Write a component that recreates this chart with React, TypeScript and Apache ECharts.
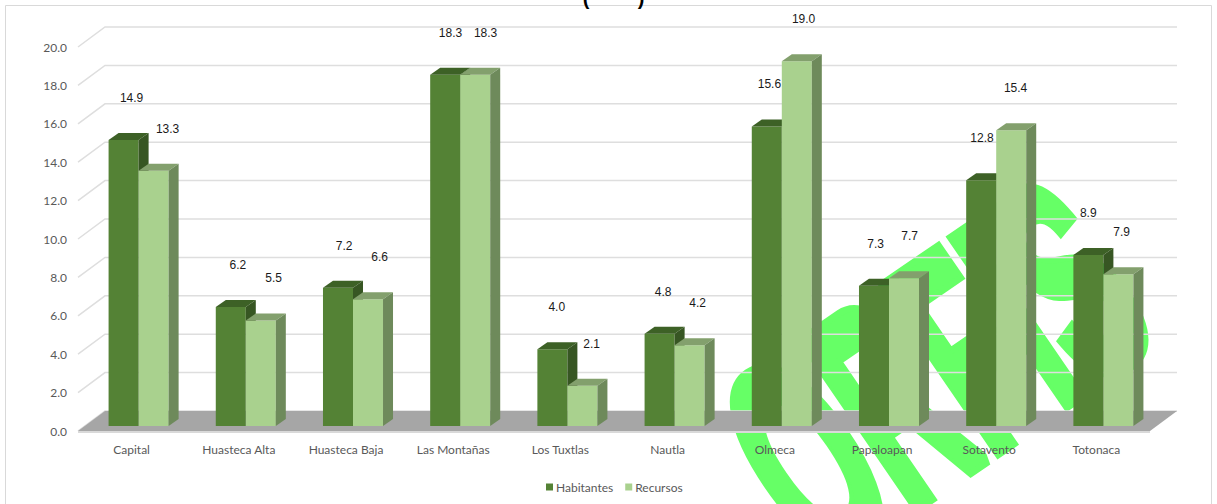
import React, { useEffect, useRef } from "react";
import * as echarts from "echarts";

const categories = [
  "Capital",
  "Huasteca Alta",
  "Huasteca Baja",
  "Las Montañas",
  "Los Tuxtlas",
  "Nautla",
  "Olmeca",
  "Papaloapan",
  "Sotavento",
  "Totonaca",
];
const habitantes = [14.9, 6.2, 7.2, 18.3, 4.0, 4.8, 15.6, 7.3, 12.8, 8.9];
const recursos = [13.3, 5.5, 6.6, 18.3, 2.1, 4.2, 19.0, 7.7, 15.4, 7.9];
const yTicks = [0, 2, 4, 6, 8, 10, 12, 14, 16, 18, 20];
const seriesNames = ["Habitantes", "Recursos"];

// 3D look (pixels)
const WALL_DX = 27;
const WALL_DY = -20;
const BAR_DX = 7;
const BAR_DY = -5;
const DEP_X = 10;
const DEP_Y = -7;

const palettes = [
  { front: "#548235", top: "#3d6126", side: "#375623" },
  { front: "#a9d18e", top: "#83a06d", side: "#6e8a5b" },
];

function barRenderer(s: number) {
  return (params: any, api: any) => {
    const i = api.value(0);
    const v = api.value(1);
    const base = api.coord([i, 0]);
    const topPt = api.coord([i, v]);
    const slot = api.size([1, 0])[0];
    const w = slot * 0.28;
    const x0 = base[0] + BAR_DX + (s === 0 ? -w : 0);
    const yb = base[1] + BAR_DY;
    const yt = topPt[1] + BAR_DY;
    const p = palettes[s];
    const off = s === 0 ? 8 - 0.9 * i : 14 - 1.2 * i;
    return {
      type: "group",
      children: [
        {
          type: "rect",
          shape: { x: x0, y: yt, width: w, height: yb - yt },
          style: { fill: p.front },
        },
        {
          type: "polygon",
          shape: {
            points: [
              [x0, yt],
              [x0 + DEP_X, yt + DEP_Y],
              [x0 + w + DEP_X, yt + DEP_Y],
              [x0 + w, yt],
            ],
          },
          style: { fill: p.top },
        },
        {
          type: "polygon",
          shape: {
            points: [
              [x0 + w, yt],
              [x0 + w + DEP_X, yt + DEP_Y],
              [x0 + w + DEP_X, yb + DEP_Y],
              [x0 + w, yb],
            ],
          },
          style: { fill: p.side },
        },
        {
          type: "text",
          z2: 50,
          style: {
            x: x0 + w / 2 + off,
            y: yt - 42,
            text: v.toFixed(1),
            align: "center",
            verticalAlign: "middle",
            fill: "#1a1a1a",
            font: "12px 'Liberation Sans', Arial, sans-serif",
          },
        },
      ],
    };
  };
}

export default function App() {
  const ref = useRef<HTMLDivElement>(null);

  useEffect(() => {
    if (!ref.current) return;
    const chart = echarts.init(ref.current, null, { renderer: "svg" });

    const option: any = {
      animation: false,
      color: ["#548235", "#a9d18e"],
      grid: { left: 78, right: 67, top: 47, bottom: 73 },
      xAxis: {
        type: "category",
        data: categories,
        z: 5,
        axisLine: { show: false },
        axisTick: { show: false },
        axisLabel: {
          color: "#595959",
          fontFamily: "Lato",
          fontSize: 12,
          margin: 12,
          interval: 0,
        },
        splitLine: { show: false },
      },
      yAxis: {
        type: "value",
        min: 0,
        max: 20,
        interval: 2,
        z: 5,
        axisLine: { show: false },
        axisTick: { show: false },
        splitLine: { show: false },
        axisLabel: {
          color: "#595959",
          fontFamily: "Lato",
          fontSize: 12,
          margin: 11,
          formatter: (v: number) => v.toFixed(1),
        },
      },
      legend: {
        data: seriesNames,
        left: 541,
        top: 476,
        icon: "rect",
        itemWidth: 7,
        itemHeight: 7,
        itemGap: 12,
        textStyle: { color: "#595959", fontFamily: "Lato", fontSize: 12, padding: [0, 0, 0, -2] },
      },
      graphic: {
        elements: [
          {
            type: "text",
            x: 935,
            y: 372,
            rotation: 0.6,
            scaleX: 0.47,
            z: 0,
            silent: true,
            style: {
              text: "ORFIS",
              align: "center",
              verticalAlign: "middle",
              fill: "#66ff66",
              stroke: "#66ff66",
              lineWidth: 14,
              font: "bold 290px 'Liberation Sans', Arial, sans-serif",
            },
          },
          {
            type: "rect",
            z: 20,
            silent: true,
            shape: { x: 5.5, y: 5.5, width: 1206, height: 530 },
            style: { fill: "none", stroke: "#d9d9d9", lineWidth: 1 },
          },
          {
            type: "text",
            z: 20,
            x: 586,
            y: 8,
            style: {
              text: "(",
              align: "center",
              verticalAlign: "bottom",
              fill: "#000",
              font: "bold 20px 'Liberation Sans', Arial, sans-serif",
            },
          },
          {
            type: "text",
            z: 20,
            x: 641,
            y: 8,
            style: {
              text: ")",
              align: "center",
              verticalAlign: "bottom",
              fill: "#000",
              font: "bold 20px 'Liberation Sans', Arial, sans-serif",
            },
          },
        ],
      },
      series: [
        {
          type: "custom",
          name: "walls",
          z: 1,
          silent: true,
          clip: false,
          data: yTicks.map((t) => [0, t]),
          renderItem: (params: any, api: any) => {
            const cs = params.coordSys;
            const y = api.coord([0, api.value(1)])[1];
            const x0 = cs.x;
            const x1 = cs.x + cs.width;
            return {
              type: "polyline",
              shape: {
                points: [
                  [x0, y],
                  [x0 + WALL_DX, y + WALL_DY],
                  [x1 + WALL_DX, y + WALL_DY],
                ],
              },
              style: { stroke: "#dedede", lineWidth: 1.5, fill: "none" },
            };
          },
        },
        {
          type: "custom",
          name: "floor",
          z: 2,
          silent: true,
          clip: false,
          data: [[0, 0]],
          renderItem: (params: any, api: any) => {
            const cs = params.coordSys;
            const y = api.coord([0, 0])[1];
            const x0 = cs.x;
            const x1 = cs.x + cs.width;
            return {
              type: "group",
              children: [
                {
                  type: "polygon",
                  shape: {
                    points: [
                      [x0, y],
                      [x1, y],
                      [x1 + WALL_DX, y + WALL_DY],
                      [x0 + WALL_DX, y + WALL_DY],
                    ],
                  },
                  style: { fill: "#a6a6a6" },
                },
                {
                  type: "rect",
                  shape: { x: x0, y: y, width: x1 - x0, height: 2 },
                  style: { fill: "#d9d9d9" },
                },
              ],
            };
          },
        },
        {
          type: "custom",
          name: seriesNames[0],
          z: 3,
          clip: false,
          itemStyle: { color: "#548235" },
          data: habitantes.map((v, i) => [i, v]),
          renderItem: barRenderer(0),
        },
        {
          type: "custom",
          name: seriesNames[1],
          z: 4,
          clip: false,
          itemStyle: { color: "#a9d18e" },
          data: recursos.map((v, i) => [i, v]),
          renderItem: barRenderer(1),
        },
      ],
    };

    chart.setOption(option);
    return () => chart.dispose();
  }, []);

  return (
    <div
      ref={ref}
      style={{ position: "absolute", left: 0, top: 0, width: 1217, height: 504, background: "#fff" }}
    />
  );
}
